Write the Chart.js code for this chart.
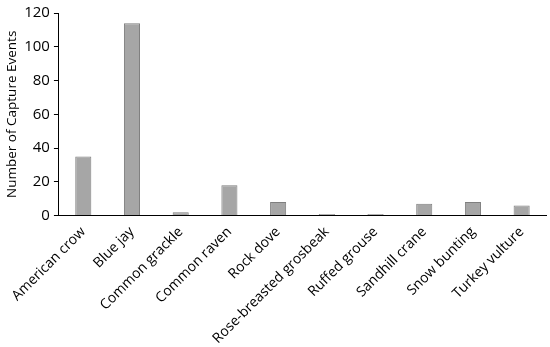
<!DOCTYPE html>
<html>
<head>
<meta charset="utf-8">
<script src="https://cdn.jsdelivr.net/npm/chart.js@4/dist/chart.umd.min.js"></script>
<style>
  html, body { margin: 0; padding: 0; background: #fff; }
  #wrap { width: 550px; height: 347px; }
</style>
</head>
<body>
<div id="wrap"><canvas id="birdChart" width="550" height="347"></canvas></div>
<script>
const species = ['American crow', 'Blue jay', 'Common grackle', 'Common raven', 'Rock dove',
  'Rose-breasted grosbeak', 'Ruffed grouse', 'Sandhill crane', 'Snow bunting', 'Turkey vulture'];
const captureEvents = [35, 114, 2, 18, 8, 1, 1, 7, 8, 6];
const yTicks = [0, 20, 40, 60, 80, 100, 120];

const fontFamily = '"Open Sans", "Liberation Sans", sans-serif';

const ctx = document.getElementById('birdChart').getContext('2d');
new Chart(ctx, {
  type: 'bar',
  data: {
    labels: species,
    datasets: [{
      label: 'Capture events',
      data: captureEvents,
      backgroundColor: '#a6a6a6',
      borderColor: '#7f7f7f',
      borderWidth: 1,
      categoryPercentage: 1,
      barPercentage: 0.33
    }]
  },
  options: {
    responsive: false,
    animation: false,
    layout: { padding: { top: 1, right: 4, left: 4, bottom: 0 } },
    plugins: {
      legend: { display: false },
      tooltip: { enabled: false }
    },
    scales: {
      x: {
        grid: { display: false },
        border: { display: true, color: '#000', width: 1 },
        ticks: {
          color: '#000',
          font: { family: fontFamily, size: 14 },
          minRotation: 45,
          maxRotation: 45,
          padding: 0
        }
      },
      y: {
        min: 0,
        max: 120,
        afterBuildTicks: axis => { axis.ticks = yTicks.map(v => ({ value: v })); },
        grid: { display: true, drawOnChartArea: false, drawTicks: true, tickLength: 5, color: '#000' },
        border: { display: true, color: '#000', width: 1 },
        ticks: {
          color: '#000',
          font: { family: fontFamily, size: 15 },
          padding: 4
        },
        title: {
          display: true,
          text: 'Number of Capture Events',
          color: '#000',
          font: { family: fontFamily, size: 13.5 },
          padding: { top: 0, bottom: 0 }
        }
      }
    }
  }
});
</script>
</body>
</html>
